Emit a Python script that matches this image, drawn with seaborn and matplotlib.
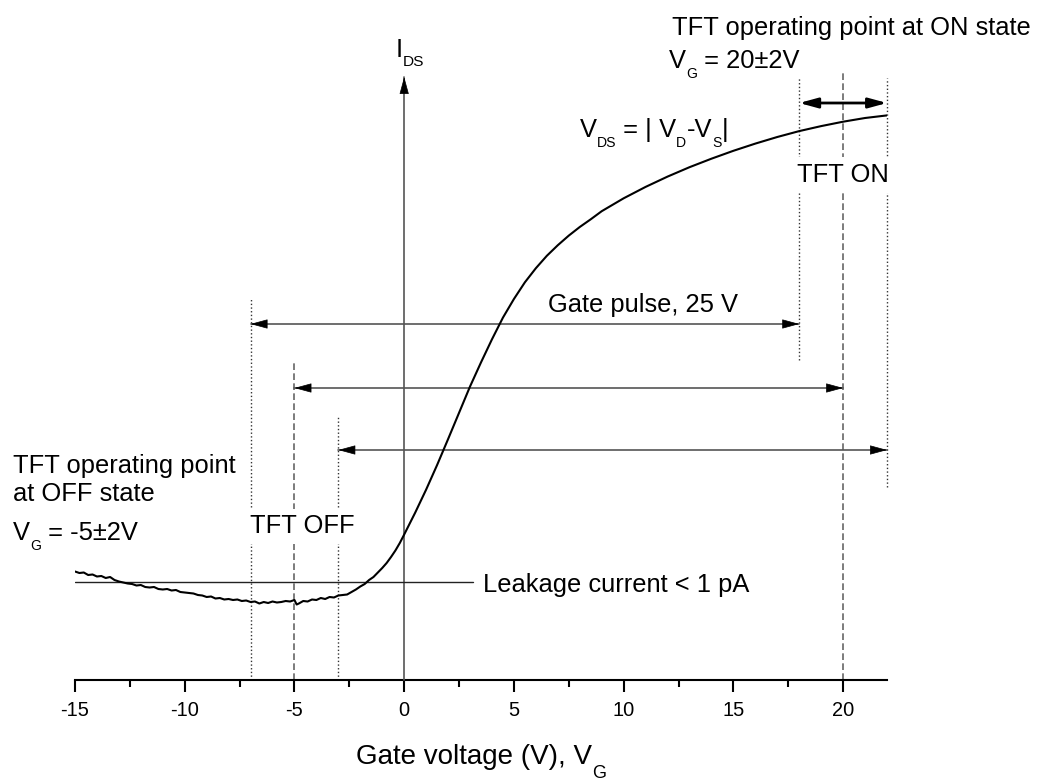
import matplotlib
matplotlib.use("Agg")
import matplotlib.pyplot as plt
import seaborn as sns
import pandas as pd
from matplotlib.transforms import offset_copy

# Transfer characteristic of the TFT: gate voltage (V) vs. drain current (a.u.)
gate_voltage = [
    -15.0, -14.8, -14.6, -14.4, -14.2, -14.0, -13.8, -13.6, -13.4, -13.2,
    -13.0, -12.8, -12.6, -12.4, -12.2, -12.0, -11.8, -11.6, -11.4, -11.2,
    -11.0, -10.8, -10.6, -10.4, -10.2, -10.0, -9.8, -9.6, -9.4, -9.2,
    -9.0, -8.8, -8.6, -8.4, -8.2, -8.0, -7.8, -7.6, -7.4, -7.2,
    -7.0, -6.8, -6.6, -6.4, -6.2, -6.0, -5.8, -5.6, -5.4, -5.2,
    -5.0, -4.9, -4.8, -4.6, -4.4, -4.2, -4.0, -3.8, -3.6, -3.4,
    -3.2, -3.0, -2.8, -2.6, -2.4, -2.2, -2.0, -1.8, -1.6, -1.4,
    -1.2, -1.0, -0.8, -0.6, -0.4, -0.2, 0.0, 0.5, 1.0, 1.5,
    2.0, 2.5, 3.0, 3.5, 4.0, 4.5, 5.0, 5.5, 6.0, 6.5,
    7.0, 7.5, 8.0, 8.5, 9.0, 10.0, 11.0, 12.0, 13.0, 14.0,
    15.0, 16.0, 17.0, 18.0, 19.0, 20.0, 21.0, 22.0,
]
drain_current = [
    1.085, 1.070, 1.075, 1.050, 1.055, 1.035, 1.040, 1.020, 1.030, 1.000,
    0.985, 0.975, 0.965, 0.960, 0.945, 0.950, 0.930, 0.925, 0.930, 0.910,
    0.905, 0.910, 0.895, 0.900, 0.880, 0.875, 0.870, 0.865, 0.850, 0.845,
    0.830, 0.835, 0.815, 0.820, 0.805, 0.810, 0.800, 0.805, 0.790, 0.795,
    0.780, 0.785, 0.765, 0.780, 0.770, 0.785, 0.775, 0.780, 0.790, 0.785,
    0.800, 0.755, 0.765, 0.790, 0.785, 0.805, 0.800, 0.820, 0.810, 0.830,
    0.825, 0.845, 0.850, 0.855, 0.880, 0.905, 0.935, 0.960, 1.000, 1.030,
    1.075, 1.120, 1.170, 1.230, 1.295, 1.370, 1.455, 1.673, 1.904, 2.150,
    2.409, 2.672, 2.935, 3.176, 3.407, 3.624, 3.810, 3.977, 4.118, 4.242,
    4.348, 4.444, 4.530, 4.607, 4.688, 4.817, 4.931, 5.034, 5.128, 5.213,
    5.292, 5.364, 5.430, 5.489, 5.539, 5.583, 5.620, 5.646,
]

# Axis ticks
major_ticks = [-15, -10, -5, 0, 5, 10, 15, 20]
tick_labels = ["-15", "-10", "-5", "0", "5", "10", "15", "20"]
minor_ticks = [-12.5, -7.5, -2.5, 2.5, 7.5, 12.5, 17.5]

# Operating points and gate pulse
off_point, on_point, window = -5, 20, 2
gate_pulse = 25
pulse_starts = [off_point - window, off_point, off_point + window]
pulse_levels = [3.56, 2.92, 2.30]
leakage_level, leakage_end = 0.983, 3.13
current_axis_top = 6.03

sns.set_theme(style="white")
plt.rcParams["font.family"] = ["Liberation Sans", "DejaVu Sans"]
plt.rcParams["axes.unicode_minus"] = False
plt.rcParams["text.color"] = "black"
plt.rcParams["xtick.color"] = "black"

fig = plt.figure(figsize=(10.39, 7.80), dpi=100)
ax = fig.add_axes([75 / 1039, 100 / 780, 812 / 1039, 680 / 780])

df = pd.DataFrame({"vg": gate_voltage, "ids": drain_current})
sns.lineplot(data=df, x="vg", y="ids", ax=ax, color="black", lw=1.5,
             estimator=None, sort=False, zorder=4)

ax.set_xlim(-15, 22)
ax.set_ylim(0, 6.8)
for side in ("left", "right", "top"):
    ax.spines[side].set_visible(False)
ax.spines["bottom"].set_color("black")
ax.spines["bottom"].set_linewidth(1.5)
ax.set_xticks(major_ticks)
ax.set_xticklabels(tick_labels)
ax.set_xticks(minor_ticks, minor=True)
ax.tick_params(axis="x", which="major", direction="out", length=8.6, width=1.5,
               labelsize=14.4, pad=6.5, colors="black", bottom=True)
ax.tick_params(axis="x", which="minor", direction="out", length=5, width=1.5,
               colors="black", bottom=True)
ax.set_yticks([])
ax.set_xlabel("")
ax.set_ylabel("")

dotted = dict(ls=":", lw=1.0, color="#333333", clip_on=False, zorder=2)
dashed = dict(ls=(0, (4, 2)), lw=1.2, color="#666666", clip_on=False, zorder=2)

# OFF-state markers
ax.plot([off_point - window] * 2, [0, 3.81], **dotted)
ax.plot([off_point] * 2, [0, 3.19], **dashed)
ax.plot([off_point + window] * 2, [0, 2.63], **dotted)
# ON-state markers
ax.plot([on_point - window] * 2, [3.20, 6.03], **dotted)
ax.plot([on_point] * 2, [0, 6.07], **dashed)
ax.plot([on_point + window] * 2, [1.93, 6.02], **dotted)

shaft = dict(color="#555555", lw=1.2, zorder=3, clip_on=False)
head_style = "-|>,head_length=0.55,head_width=0.15"


def arrow_head(x, y, dx, dy):
    """Solid black head whose tip sits at (x, y), pointing along (dx, dy)."""
    ax.annotate("", xy=(x, y), xytext=(x - dx, y - dy),
                arrowprops=dict(arrowstyle=head_style, color="black", lw=0.5,
                                shrinkA=0, shrinkB=0, mutation_scale=20), zorder=5)


# Current axis
ax.plot([0, 0], [0, current_axis_top], **shaft)
arrow_head(0, current_axis_top, 0, 0.05)

# Gate pulse arrows
for start, level in zip(pulse_starts, pulse_levels):
    ax.plot([start, start + gate_pulse], [level, level], **shaft)
    arrow_head(start, level, -0.15, 0)
    arrow_head(start + gate_pulse, level, 0.15, 0)

# ON window arrow
ax.annotate("", xy=(on_point + window, 5.77), xytext=(on_point - window, 5.77),
            arrowprops=dict(arrowstyle="<|-|>,head_length=0.55,head_width=0.15",
                            color="black", lw=2.0, shrinkA=0, shrinkB=0,
                            mutation_scale=20), zorder=3)

# Leakage level
ax.plot([-15, leakage_end], [leakage_level] * 2, color="#222222", lw=1.0, zorder=3)


def compound_label(x, y, parts, size, sub_scale=0.55, sub_drop=10, ha="left"):
    """Draw text with lowered subscripts; parts are (string, is_subscript)."""
    renderer = fig.canvas.get_renderer()
    base = ax.transData
    items = []
    for text, is_sub in parts:
        fs = size * sub_scale if is_sub else size
        t = ax.text(x, y, text, fontsize=fs, transform=base, ha="left",
                    va="baseline", color="black", zorder=6)
        items.append((t, is_sub, t.get_window_extent(renderer).width))
    total = sum(w for _, _, w in items)
    dx = -total / 2 if ha == "center" else 0.0
    for t, is_sub, w in items:
        t.set_transform(offset_copy(base, fig=fig, x=dx,
                                    y=-sub_drop if is_sub else 0, units="dots"))
        dx += w


fs = 18.4
txt = dict(fontsize=fs, va="baseline", ha="left", color="black", zorder=6)
compound_label(-0.38, 6.23, [("I", 0), ("DS", 1)], fs, sub_scale=0.6, sub_drop=9)
ax.text(12.20, 6.45, "TFT operating point at ON state", **txt)
compound_label(12.06, 6.125, [("V", 0), ("G", 1), (" = 20±2V", 0)], fs)
compound_label(8.01, 5.43, [("V", 0), ("DS", 1), (" =", 0), (" |", 0), (" V", 0),
                            ("D", 1), ("-V", 0), ("S", 1), ("|", 0)], fs)
ax.text(17.9, 4.98, "TFT ON", bbox=dict(facecolor="white", edgecolor="none", pad=4), **txt)
ax.text(6.56, 3.68, "Gate pulse, 25 V", **txt)

ax.text(-17.82, 2.067, "TFT operating point", **txt)
ax.text(-17.82, 1.79, "at OFF state", **txt)
compound_label(-17.82, 1.40, [("V", 0), ("G", 1), (" = -5±2V", 0)], fs)
ax.text(-7.03, 1.467, "TFT OFF", bbox=dict(facecolor="white", edgecolor="none", pad=4), **txt)
ax.text(3.6, 0.883, "Leakage current < 1 pA", **txt)

compound_label(3.5, -0.84, [("Gate voltage (V), V", 0), ("G", 1)], 20,
               sub_scale=0.65, sub_drop=14, ha="center")

fig.savefig("out.png", dpi=100, facecolor="white")
